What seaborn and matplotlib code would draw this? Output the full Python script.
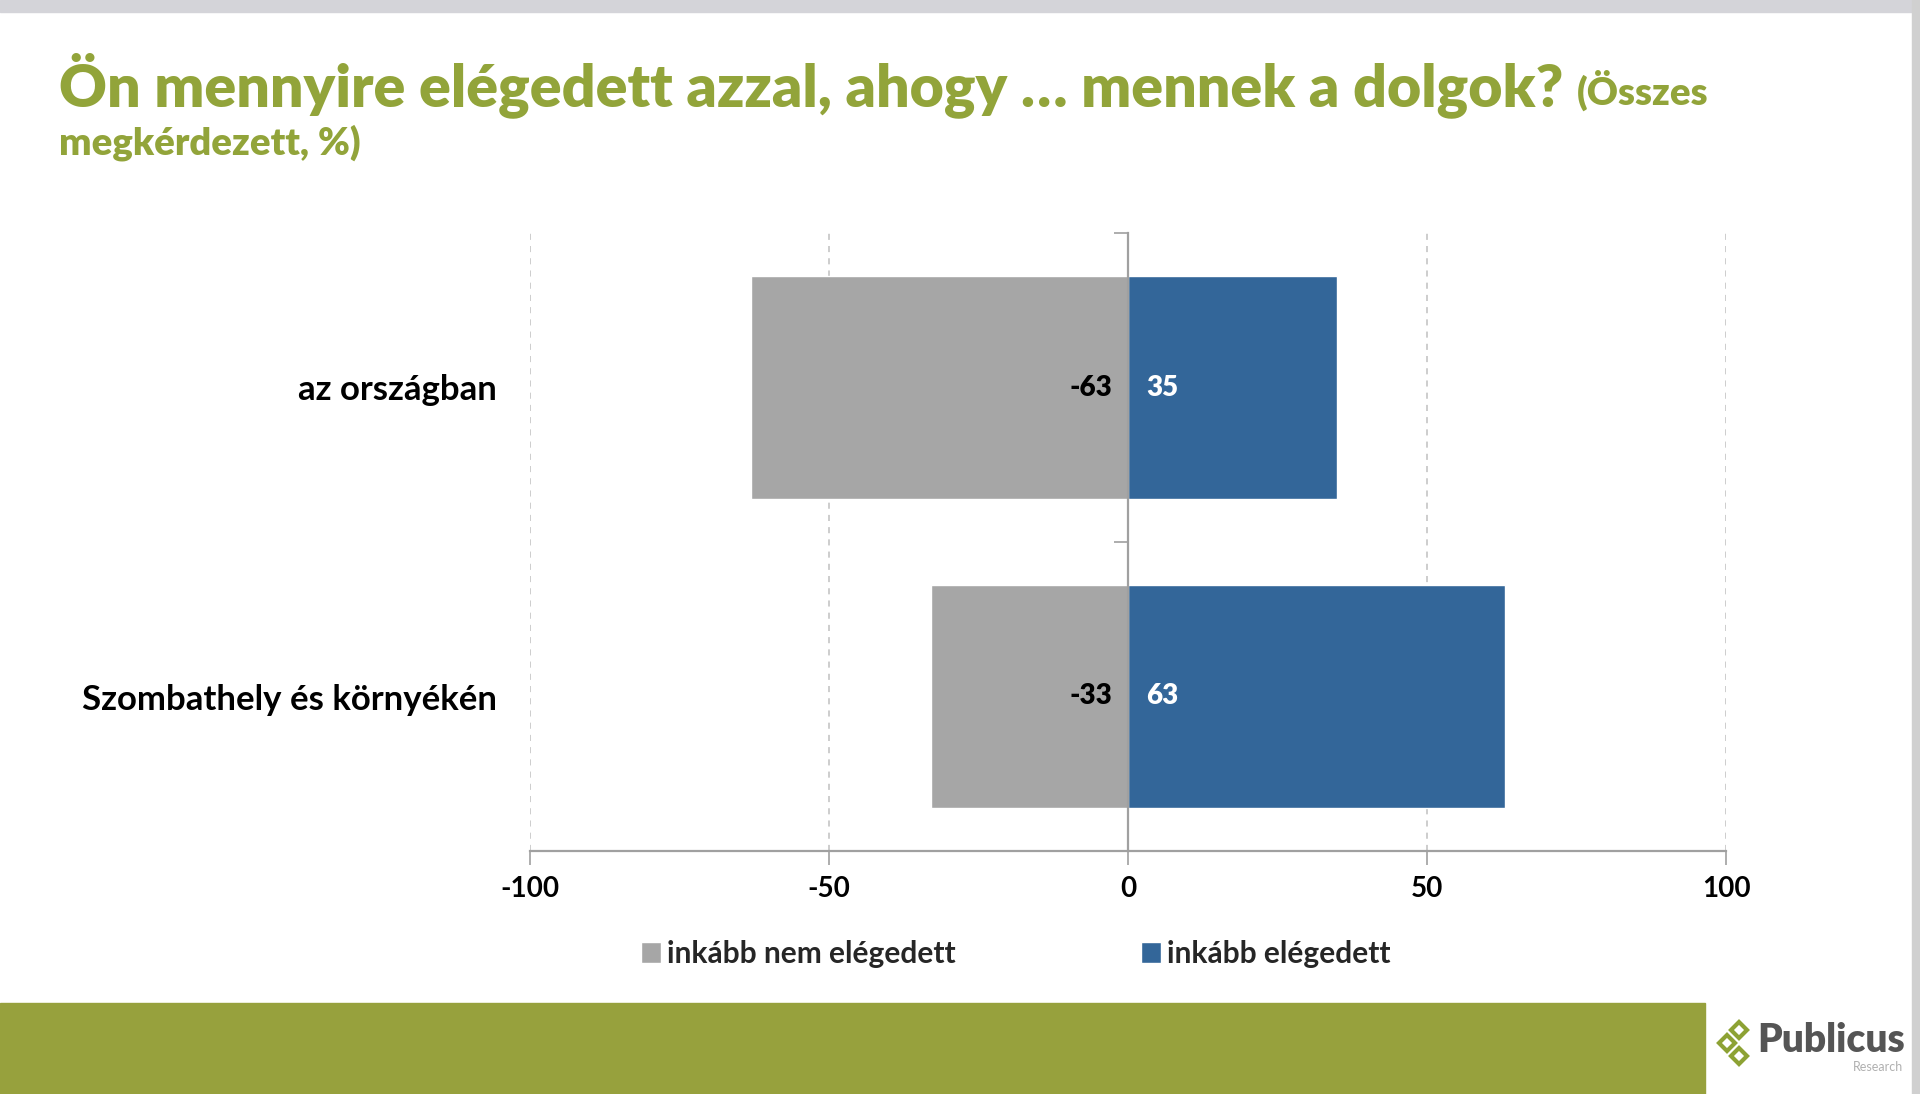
import matplotlib
matplotlib.use("Agg")
import pandas as pd
import seaborn as sns
import matplotlib.pyplot as plt
from matplotlib.patches import Rectangle
from matplotlib.lines import Line2D

# Data
categories = ["az országban", "Szombathely és környékén"]
not_satisfied = [-63, -33]
satisfied = [35, 63]
series_names = ["inkább nem elégedett", "inkább elégedett"]
xticks = [-100, -50, 0, 50, 100]

title_main = "Ön mennyire elégedett azzal, ahogy … mennek a dolgok?"
title_sub1 = "(Összes"
title_sub2 = "megkérdezett, %)"

GREEN = "#92a43a"
BAND_GREEN = "#97a13d"
GRAY_BAR = "#a6a6a6"
BLUE_BAR = "#336699"
AXIS_GRAY = "#a0a0a0"

W, H = 1920, 1094

if __name__ == "__main__":
    df = pd.DataFrame({
        "Kategória": categories * 2,
        "Érték": not_satisfied + satisfied,
        "Válasz": [series_names[0]] * len(categories) + [series_names[1]] * len(categories),
    })

    sns.set_theme(style="white")
    plt.rcParams["font.family"] = ["Lato", "DejaVu Sans"]
    plt.rcParams["axes.unicode_minus"] = False

    fig = plt.figure(figsize=(W / 100, H / 100), dpi=100)
    ax = fig.add_axes([530 / W, 1 - 851 / H, (1726 - 530) / W, (851 - 233) / H])

    sns.barplot(data=df, y="Kategória", x="Érték", hue="Válasz", dodge=False,
                orient="h", palette=[GRAY_BAR, BLUE_BAR], width=0.72,
                saturation=1, ax=ax)

    ax.set_xlim(-100, 100)
    ax.set_ylim(len(categories) - 0.5, -0.5)
    ax.set_xticks(xticks)
    ax.set_xlabel("")
    ax.set_ylabel("")
    ax.set_axisbelow(True)
    ax.xaxis.grid(True, linestyle=(0, (4, 4)), color="#c0c0c0", linewidth=1.1)
    ax.yaxis.grid(False)

    for side in ["left", "top", "right"]:
        ax.spines[side].set_visible(False)
    ax.spines["bottom"].set_color(AXIS_GRAY)
    ax.spines["bottom"].set_linewidth(1.6)

    ax.tick_params(axis="x", direction="out", length=10, width=1.2, color=AXIS_GRAY,
                   labelsize=20, pad=8, bottom=True)
    ax.tick_params(axis="y", length=0, labelsize=25, pad=24)
    for lab in ax.get_xticklabels() + ax.get_yticklabels():
        lab.set_fontweight("bold")
        lab.set_color("black")

    # vertical axis through zero with ticks at category boundaries
    zero_pos = (0 - xticks[0]) / (xticks[-1] - xticks[0])
    sec = ax.secondary_yaxis(zero_pos)
    sec.set_alignment("left")
    sec.set_yticks([i - 0.5 for i in range(len(categories) + 1)])
    sec.set_yticklabels([])
    sec.tick_params(length=10, width=1.2, color=AXIS_GRAY, direction="out")
    for side in ["left", "right"]:
        sec.spines[side].set_color(AXIS_GRAY)
        sec.spines[side].set_linewidth(1.6)
    sec.set_zorder(3)

    # value labels next to the zero line
    for i, v in enumerate(not_satisfied):
        ax.annotate(f"{v}", xy=(0, i), xytext=(-16, 0), textcoords="offset pixels",
                    ha="right", va="center", fontsize=20, fontweight="heavy", color="black")
    for i, v in enumerate(satisfied):
        ax.annotate(f"{v}", xy=(0, i), xytext=(18, 0), textcoords="offset pixels",
                    ha="left", va="center", fontsize=20, fontweight="heavy", color="white")

    # legend below the axis
    handles, labels = ax.get_legend_handles_labels()
    ax.get_legend().remove()
    fig.legend(handles, labels, loc="center", bbox_to_anchor=(1016 / W, 1 - 954 / H),
               ncol=2, frameon=False, handlelength=0.67, handleheight=0.67,
               handletextpad=0.2, columnspacing=6.2,
               prop={"weight": "bold", "size": 21.5})

    # title
    t1 = fig.text(59 / W, 1 - 85 / H, title_main, fontsize=42.5, fontweight="heavy",
                  color=GREEN, va="center", ha="left")
    fig.canvas.draw()
    bb = t1.get_window_extent()
    fig.text((bb.x1 + 13) / W, 1 - 90 / H, title_sub1, fontsize=27.5, fontweight="heavy",
             color=GREEN, va="center", ha="left")
    fig.text(59 / W, 1 - 143 / H, title_sub2, fontsize=27.5, fontweight="heavy",
             color=GREEN, va="center", ha="left")

    # slide decoration
    fig.add_artist(Rectangle((0, 1 - 12 / H), 1, 12 / H, transform=fig.transFigure,
                             color="#d4d4d9", zorder=0))
    fig.add_artist(Rectangle((1912 / W, 0), 8 / W, 1, transform=fig.transFigure,
                             color="#d0d0d0", zorder=0))
    fig.add_artist(Rectangle((0, 0), 1705 / W, (H - 1003) / H, transform=fig.transFigure,
                             color=BAND_GREEN, zorder=0))

    # logo
    for (lx, ly) in [(1739, 1030), (1727, 1043), (1739, 1056)]:
        fig.add_artist(Line2D([lx / W], [1 - ly / H], transform=fig.transFigure, marker="D",
                              markersize=8.5, markerfacecolor="white",
                              markeredgecolor="#8da234", markeredgewidth=3, linestyle=""))
    fig.text(1905 / W, 1 - 1040 / H, "Publicus", fontsize=28, fontweight="heavy",
             color="#555555", ha="right", va="center")
    fig.text(1903 / W, 1 - 1067 / H, "Research", fontsize=9, color="#b0b0b0",
             ha="right", va="center")

    fig.savefig("out.png", dpi=100)
